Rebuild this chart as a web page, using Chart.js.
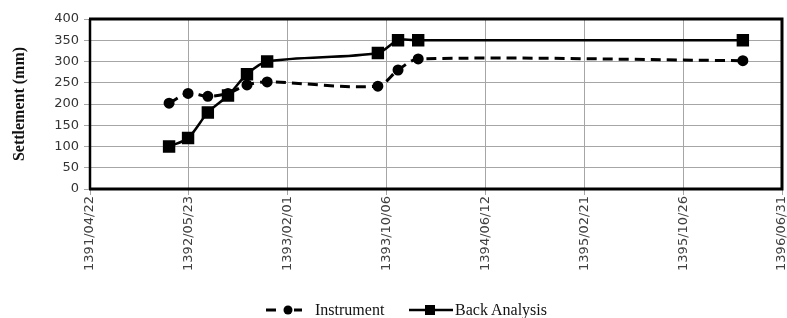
<!DOCTYPE html>
<html><head><meta charset="utf-8">
<script src="https://cdn.jsdelivr.net/npm/chart.js@4"></script>
<style>
html,body{margin:0;padding:0;background:#fff}
#wrap{position:relative;width:787px;height:318px;overflow:hidden}
#c{position:absolute;left:0;top:0}
.lg{position:absolute;font-family:"Liberation Serif","Times New Roman",serif;font-size:16px;color:#111;line-height:16px;white-space:nowrap}
.sw{position:absolute}
</style></head>
<body><div id="wrap">
<canvas id="c" width="787" height="318"></canvas>
<svg class="sw" style="left:264px;top:302px" width="40" height="16"><line x1="2" y1="8" x2="12" y2="8" stroke="#000" stroke-width="3"/><line x1="30" y1="8" x2="38" y2="8" stroke="#000" stroke-width="3"/><circle cx="24" cy="8" r="4.5" fill="#000"/></svg>
<div class="lg" style="left:315px;top:302px">Instrument</div>
<svg class="sw" style="left:408px;top:302px" width="46" height="16"><line x1="1" y1="8" x2="45" y2="8" stroke="#000" stroke-width="2.5"/><rect x="17" y="3" width="10" height="10" fill="#000"/></svg>
<div class="lg" style="left:455px;top:302px">Back Analysis</div>
</div>
<script>
// x values in days from first tick (one tick = 250 days)
const xDays = [200, 248, 298, 349, 397, 448, 728, 779, 830, 1651];
const instrument = [202, 225, 218, 225, 245, 252, 242, 280, 306, 302];
const backAnalysis = [100, 120, 180, 220, 270, 300, 320, 350, 350, 350];
const tickLabels = ['1391/04/22','1392/05/23','1393/02/01','1393/10/06','1394/06/12','1395/02/21','1395/10/26','1396/06/31'];
const tickStep = 250;

const toPts = ys => xDays.map((x, i) => ({x: x, y: ys[i]}));

const frame = {
  id: 'frame',
  beforeDatasetsDraw(chart) {
    const a = chart.chartArea, ctx = chart.ctx;
    ctx.save();
    ctx.strokeStyle = '#000';
    ctx.lineWidth = 3;
    ctx.beginPath();
    ctx.moveTo(a.left - 1, a.top); ctx.lineTo(a.right, a.top);
    ctx.lineTo(a.right, a.bottom); ctx.lineTo(a.left - 1, a.bottom);
    ctx.stroke();
    ctx.lineWidth = 2.5;
    ctx.beginPath();
    ctx.moveTo(a.left, a.top); ctx.lineTo(a.left, a.bottom);
    ctx.stroke();
    ctx.restore();
  }
};

new Chart(document.getElementById('c'), {
  type: 'line',
  data: {
    datasets: [
      {label: 'Instrument', data: toPts(instrument), borderColor: '#000', backgroundColor: '#000',
       borderWidth: 3, borderDash: [10, 6], pointStyle: 'circle', pointRadius: 4, tension: 0.3},
      {label: 'Back Analysis', data: toPts(backAnalysis), borderColor: '#000', backgroundColor: '#000',
       borderWidth: 2.5, pointStyle: 'rect', pointRadius: 7, tension: 0.3}
    ]
  },
  options: {
    responsive: false, animation: false,
    layout: {autoPadding: false, padding: {left: 0, right: 5, top: 19, bottom: 0}},
    plugins: {legend: {display: false}, tooltip: {enabled: false}},
    scales: {
      x: {
        type: 'linear', min: 0, max: tickStep * (tickLabels.length - 1),
        afterFit(s) { s.height = 129; s.paddingLeft = 0; s.paddingRight = 0; },
        afterBuildTicks(s) { s.ticks = tickLabels.map((_, i) => ({value: i * tickStep})); },
        ticks: {
          stepSize: tickStep, autoSkip: false, maxRotation: 90, minRotation: 90, padding: 1,
          color: '#404040', font: {family: 'DejaVu Sans', size: 13},
          callback: v => tickLabels[Math.round(v / tickStep)]
        },
        grid: {color: '#a6a6a6', lineWidth: 1, tickLength: 6},
        border: {display: false}
      },
      y: {
        min: 0, max: 400,
        afterFit(s) { s.width = 90; s.paddingTop = 0; s.paddingBottom = 0; },
        ticks: {stepSize: 50, padding: 5, color: '#333', font: {family: 'DejaVu Sans', size: 13}},
        grid: {color: '#a6a6a6', lineWidth: 1, tickLength: 6},
        border: {display: false},
        title: {display: true, text: 'Settlement (mm)', color: '#111', padding: {top: 10, bottom: 0},
                font: {family: 'Liberation Serif', size: 16, weight: 'bold'}}
      }
    }
  },
  plugins: [frame]
});
</script>
</body></html>
